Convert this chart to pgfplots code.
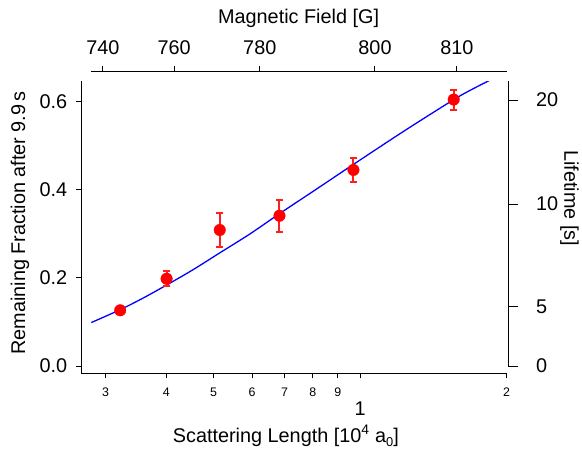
\documentclass[border=0pt]{standalone}
\usepackage{fontspec}
\setmainfont{Liberation Sans}
\usepackage{pgfplots}
\pgfplotsset{compat=1.18}
\definecolor{barred}{RGB}{255,30,30}
\newcommand{\bigf}{\fontsize{20}{24}\selectfont}
\newcommand{\smallf}{\fontsize{12.5}{15}\selectfont}
\newcommand{\subf}{\fontsize{13}{15}\selectfont}
\begin{document}
\begin{tikzpicture}
\path (-81.7bp,-78bp) rectangle (500.3bp,375bp);
% ---------- right axis (lifetime) ----------
\begin{axis}[at={(0bp,7.3bp)}, anchor=south west, scale only axis,
  width=429bp, height=286bp, xmin=0, xmax=1, ymin=0, ymax=0.6466,
  hide x axis, axis y line*=right,
  axis line style={-, line width=1bp, black},
  tick style={line width=1bp, black}, tick align=outside, major tick length=10bp,
  ytick={0,0.135,0.368,0.604}, yticklabels={0,5,10,20},
  yticklabel style={font=\bigf, anchor=west, inner sep=0pt, xshift=17.6bp},
  ylabel={Lifetime [s]},
  ylabel style={at={(axis description cs:1.1429,0.59)}, anchor=center, rotate=180, font=\bigf}]
\end{axis}
% ---------- top axis (magnetic field) ----------
\begin{axis}[at={(9.3bp,200bp)}, anchor=south west, scale only axis,
  width=417.9bp, height=103.3bp, xmode=log, xmin=0.2795, xmax=2, ymin=0, ymax=1,
  hide y axis, axis x line*=top,
  axis line style={-, line width=1bp, black},
  tick style={line width=1bp, black}, tick align=outside, major tick length=5bp,
  minor x tick num=0,
  xtick={0.2962,0.4151,0.6222,1.073,1.581}, xticklabels={740,760,780,800,810},
  xticklabel style={font=\bigf, anchor=base, inner sep=0pt, yshift=12.4bp},
  xlabel={Magnetic Field [G]},
  xlabel style={at={(axis description cs:0.5,1)}, anchor=base, yshift=47.7bp, font=\bigf}]
\end{axis}
% ---------- main axis ----------
\begin{axis}[at={(0bp,0bp)}, anchor=south west, scale only axis,
  width=427.2bp, height=293.3bp, xmode=log, xmin=0.2675, xmax=2,
  ymin=-0.0165, ymax=0.6466,
  axis x line*=bottom, axis y line*=left,
  axis line style={-, line width=1bp, black},
  tick style={line width=1bp, black}, tick align=outside, major tick length=5bp,
  minor x tick num=0,
  xtick={0.3,0.4,0.5,0.6,0.7,0.8,0.9,1,2},
  xticklabels={3,4,5,6,7,8,9,{\raisebox{-19.4bp}{\bigf 1}},2},
  xticklabel style={font=\smallf, anchor=base, inner sep=0pt, yshift=-18.3bp},
  ytick={0,0.2,0.4,0.6}, yticklabels={0.0,0.2,0.4,0.6},
  yticklabel style={font=\bigf, anchor=east, inner sep=0pt, xshift=-9bp},
  xlabel={Scattering Length [10\textsuperscript{4} a\raisebox{-0.45ex}{\subf 0}]},
  xlabel style={at={(axis description cs:0.481,0)}, anchor=base, yshift=-69bp, font=\bigf},
  ylabel={Remaining Fraction after 9.9\,s},
  ylabel style={at={(axis description cs:-0.1444,0.515)}, anchor=center, font=\bigf},
  unbounded coords=jump]
\addplot[blue, line width=1.3bp, no marks, smooth] table {
x y
0.2804 0.0988
0.3215 0.1280
0.3589 0.1548
0.4004 0.1840
0.4539 0.2189
0.5148 0.2570
0.5929 0.2995
0.6830 0.3460
0.8128 0.4016
0.9690 0.4580
1.2303 0.5335
1.5570 0.6050
1.6980 0.6284
1.8580 0.6505
};
% error bars: value - error, value + error
\addplot[draw=barred, line width=2bp, mark=-, mark size=3.7bp, mark options={solid, draw=barred, line width=2bp}] coordinates {
  (0.4004,0.1813) (0.4004,0.2153) (0.4004,nan)
  (0.5148,0.2694) (0.5148,0.3486) (0.5148,nan)
  (0.6830,0.3054) (0.6830,0.3774) (0.6830,nan)
  (0.9690,0.4184) (0.9690,0.4724) (0.9690,nan)
  (1.5570,0.5826) (1.5570,0.6278)
  };
\addplot[only marks, mark=*, mark size=5.8bp, mark options={fill=red, draw=red, line width=0.4bp}] coordinates {
  (0.3215,0.1266)
  (0.4004,0.1983)
  (0.5148,0.3090)
  (0.6830,0.3414)
  (0.9690,0.4454)
  (1.5570,0.6052)
  };
\end{axis}
\end{tikzpicture}
\end{document}
